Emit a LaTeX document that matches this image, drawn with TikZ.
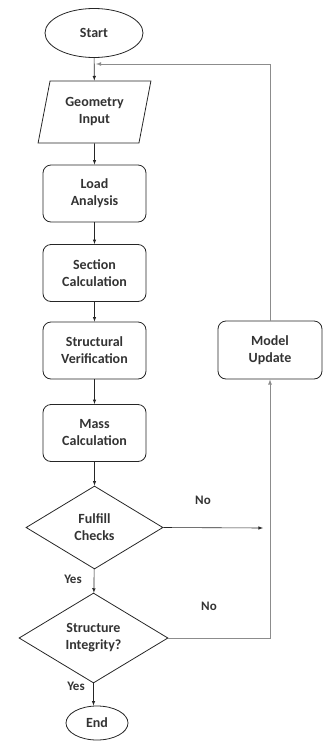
\documentclass[tikz,border=0pt]{standalone}
\usepackage{fontspec}
\setmainfont{Carlito}
\usepackage{tikz}
\usetikzlibrary{shapes.geometric,arrows}

\tikzset{
  base/.style = {draw=black!85, line width=0.8pt, align=center,
                 font=\fontsize{14}{17}\selectfont\bfseries, text=black!80},
  terminal/.style = {base, ellipse, inner sep=0pt},
  process/.style = {base, rectangle, rounded corners=8pt,
                    minimum width=103pt, minimum height=57pt},
  inputbox/.style = {base, trapezium, trapezium left angle=76,
                     trapezium right angle=104, trapezium stretches=true,
                     minimum width=113pt, minimum height=62pt},
  decision/.style = {base, diamond, inner sep=0pt},
  flow/.style = {-latex, black!85, line width=0.6pt},
  loop/.style = {-latex, black!45, line width=0.8pt},
  tag/.style = {font=\fontsize{13}{15}\selectfont\bfseries, text=black!80}
}

\begin{document}
\begin{tikzpicture}[x=1pt,y=-1pt]
          \useasboundingbox (0,0) rectangle (323,742);

          % main column
          \node[terminal, minimum width=98pt, minimum height=49pt] (start) at (94,33) {Start};
          \node[inputbox] (geo) at (94.5,112) {Geometry\\Input};
          \node[process] (load) at (94.5,193.5) {Load\\Analysis};
          \node[process] (sect) at (94.5,273) {Section\\Calculation};
          \node[process] (verif) at (94.5,350.5) {Structural\\Verification};
          \node[process] (mass) at (94.5,433) {Mass\\Calculation};
          \node[decision, minimum width=137pt, minimum height=83pt] (fulfill) at (94.5,527.5) {Fulfill\\Checks};
          \node[decision, minimum width=149pt, minimum height=90pt] (integ) at (93.5,638) {Structure\\Integrity?};
          \node[terminal, minimum width=62pt, minimum height=34pt] (end) at (97,723) {End};

          % side box
          \node[process, minimum width=104pt, minimum height=58pt] (update) at (270,350) {Model\\Update};

          % labels
          \node[tag] (no1) at (203,500) {No};
          \node[tag] (no2) at (209,606) {No};
          \node[tag] (yes1) at (73,579) {Yes};
          \node[tag] (yes2) at (76,686) {Yes};

          \coordinate (hit) at (263,528);
          \coordinate (back) at (96,64);

          % forward edges
          \draw[flow] (start) -- (geo);
          \draw[flow] (geo) -- (load);
          \draw[flow] (load) -- (sect);
          \draw[flow] (sect) -- (verif);
          \draw[flow] (verif) -- (mass);
          \draw[flow] (mass) -- (fulfill);
          \draw[flow] (fulfill.east) -- (hit);
          \draw[flow] (fulfill) -- (integ);
          \draw[flow] (integ.south) -- (integ.south |- end.north);

          % feedback edges
          \draw[loop] (integ.east) -| (update.south);
          \draw[loop] (update.north) |- (back);
        \end{tikzpicture}
\end{document}
